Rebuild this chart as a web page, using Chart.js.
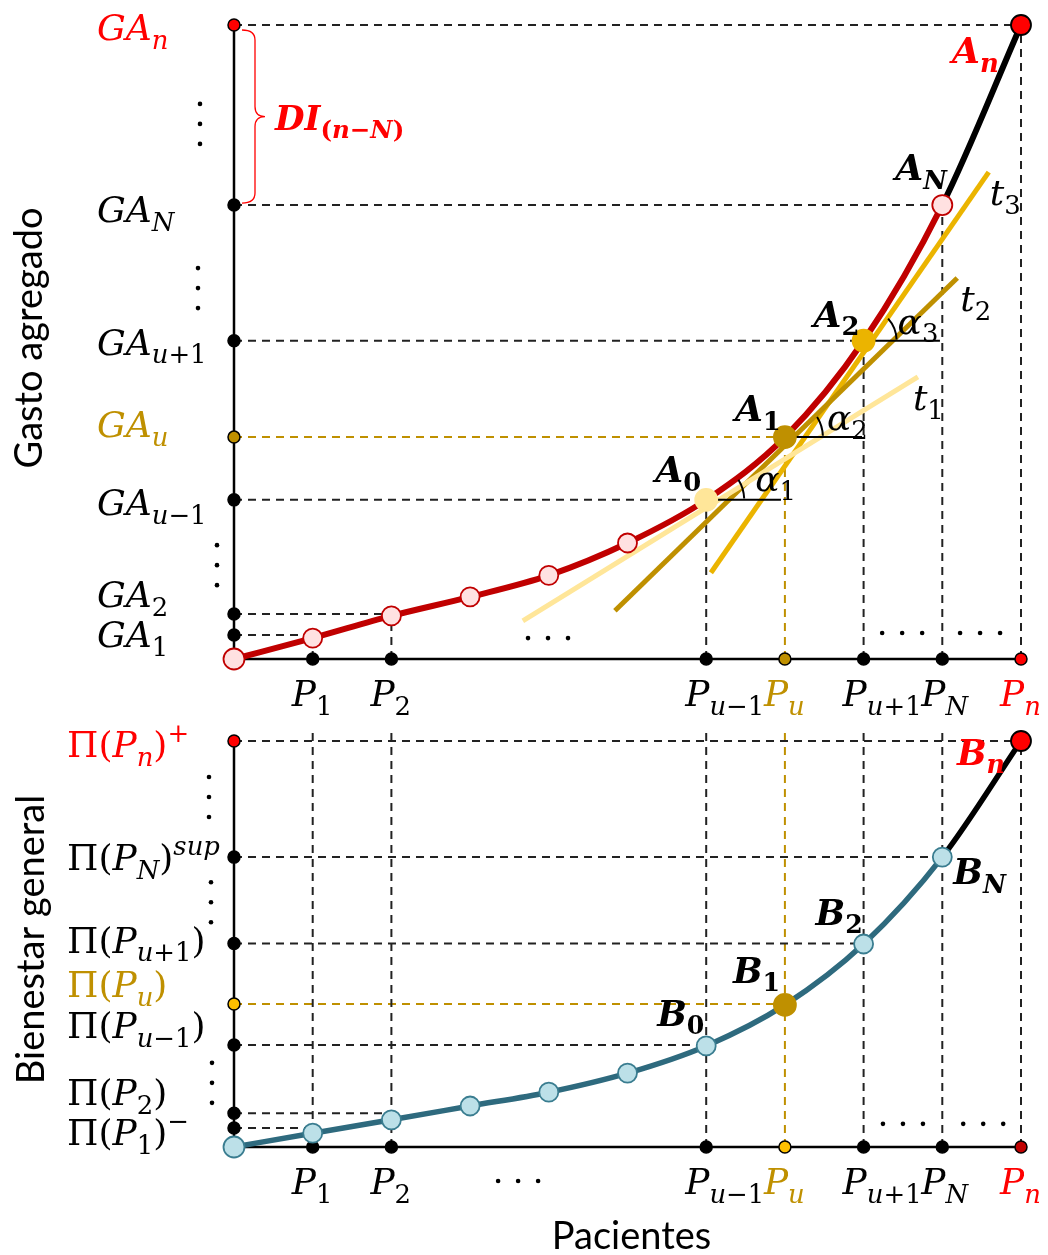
<!DOCTYPE html>
<html lang="es">
<head>
<meta charset="utf-8">
<title>Gasto agregado y bienestar general</title>
<script src="https://cdn.jsdelivr.net/npm/chart.js@4.4.1/dist/chart.umd.min.js"></script>
<style>
  html, body { margin: 0; padding: 0; background: #fff; }
  #lienzo { position: relative; width: 1048px; height: 1255px; overflow: hidden; background: #fff; }
  #lienzo canvas { position: absolute; left: 0; }
  #gasto { top: 0; }
  #bienestar { top: 700px; }
</style>
</head>
<body>
<div id="lienzo">
  <canvas id="gasto" width="1048" height="730"></canvas>
  <canvas id="bienestar" width="1048" height="555"></canvas>
</div>
<script>
// pacientes en el eje x: 0 = origen, 1..10 = posiciones de P
const pacientes = [0, 1, 2, 3, 4, 5, 6, 7, 8, 9, 10];
const gastoAgregado = [0, 3.3, 6.8, 9.8, 13.2, 18.3, 25.1, 35.0, 50.2, 71.6, 100];
const bienestarGeneral = [0, 3.4, 6.7, 10.1, 13.5, 18.2, 24.9, 35.0, 50.0, 71.4, 100];

const ticksX = [1, 2, 6, 7, 8, 9, 10];
const etiquetasX = ['P_{1}', 'P_{2}', 'P_{u−1}', 'P_{u}', 'P_{u+1}', 'P_{N}', 'P_{n}'];

const ticksGasto = [3.8, 7.1, 25.1, 35.0, 50.2, 71.6, 100];
const etiquetasGasto = ['GA_{1}', 'GA_{2}', 'GA_{u−1}', 'GA_{u}', 'GA_{u+1}', 'GA_{N}', 'GA_{n}'];

const ticksBienestar = [4.7, 8.3, 25.1, 35.2, 50.1, 71.4, 100];
const etiquetasBienestar = ['Π(P_{1})^{−}', 'Π(P_{2})', 'Π(P_{u−1})', 'Π(P_{u})', 'Π(P_{u+1})', 'Π(P_{N})^{sup}', 'Π(P_{n})^{+}'];

// tangentes (extremos de cada recta)
const t1X = [3.67, 8.69], t1Y = [6.0, 44.5];
const t2X = [4.84, 9.19], t2Y = [7.6, 60.1];
const t3X = [6.06, 9.59], t3Y = [13.6, 76.8];

// puntos con nombre: índices 6..10 de la curva
const nombresA = ['A_{0}', 'A_{1}', 'A_{2}', 'A_{N}', 'A_{n}'];
const nombresB = ['B_{0}', 'B_{1}', 'B_{2}', 'B_{N}', 'B_{n}'];
const angulos = ['α_{1}', 'α_{2}', 'α_{3}'];
const tangentes = ['t_{1}', 't_{2}', 't_{3}'];

// ---- estilos ----
const ROJO = '#FF0000', GRANATE = '#C00000', ORO = '#BF9000', AMBAR = '#FFC000';
const DORADO = '#EBB400', CREMA = '#FFE699', ROSA = '#FFE1E1';
const TEAL = '#2E6A7E', CELESTE = '#BCE0E8', BORDE_CEL = '#3A7D90';
const MATH = '"DejaVu Serif", serif';
const SANS = 'Lato, "Open Sans", sans-serif';
const TAM = 36;

function partes(str) {
  const out = [];
  let i = 0, buf = '';
  while (i < str.length) {
    const c = str[i];
    if ((c === '_' || c === '^') && str[i + 1] === '{') {
      if (buf) { out.push({ t: buf, k: 'n' }); buf = ''; }
      const fin = str.indexOf('}', i + 2);
      out.push({ t: str.slice(i + 2, fin), k: c === '_' ? 'sub' : 'sup' });
      i = fin + 1;
    } else { buf += c; i++; }
  }
  if (buf) out.push({ t: buf, k: 'n' });
  return out;
}

function fuente(cursiva, px, negrita) {
  return (cursiva ? 'italic ' : '') + (negrita ? 'bold ' : '') + px.toFixed(1) + 'px ' + MATH;
}

// texto matemático con subíndices / superíndices
function textoMat(ctx, str, x, y, o) {
  const size = o.size || TAM;
  const trozos = [];
  for (const p of partes(str)) {
    const px = p.k === 'n' ? size : size * 0.72;
    const dy = p.k === 'sub' ? size * 0.24 : p.k === 'sup' ? -size * 0.42 : 0;
    for (const ch of p.t) {
      const cur = /[A-Za-zα-ω]/.test(ch);
      const last = trozos[trozos.length - 1];
      if (last && last.cur === cur && last.px === px && last.dy === dy) last.t += ch;
      else trozos.push({ t: ch, cur, px, dy });
    }
  }
  let w = 0;
  for (const t of trozos) { ctx.font = fuente(t.cur, t.px, o.bold); t.w = ctx.measureText(t.t).width; w += t.w; }
  let cx = o.align === 'center' ? x - w / 2 : x;
  ctx.fillStyle = o.color || '#000';
  ctx.textAlign = 'left';
  ctx.textBaseline = 'alphabetic';
  for (const t of trozos) { ctx.font = fuente(t.cur, t.px, o.bold); ctx.fillText(t.t, cx, y + t.dy); cx += t.w; }
}

function segmentos(lista) {
  const d = [];
  lista.forEach((s, i) => {
    if (i) d.push({ x: null, y: null });
    d.push({ x: s[0], y: s[1] }, { x: s[2], y: s[3] });
  });
  return d;
}

function puntos(xs, ys) { return xs.map((x, i) => ({ x, y: ys[i] })); }

const base = { fill: false, pointRadius: 0, pointHoverRadius: 0, clip: false, tension: 0, spanGaps: false };

function puntitos(ctx, cx, cy, vertical) {
  ctx.fillStyle = '#000';
  for (let k = -1; k <= 1; k++) {
    ctx.beginPath();
    ctx.arc(cx + (vertical ? 0 : k * 20), cy + (vertical ? k * 20 : 0), 2.3, 0, Math.PI * 2);
    ctx.fill();
  }
}

function opciones(pad, yMax) {
  return {
    responsive: false, animation: false, events: [],
    layout: { padding: pad },
    plugins: { legend: { display: false }, tooltip: { enabled: false } },
    scales: {
      x: { type: 'linear', min: 0, max: 10, display: false },
      y: { type: 'linear', min: 0, max: yMax, display: false }
    }
  };
}

// ================= GASTO AGREGADO =================
const colorTickGasto = ['#000', '#000', '#000', ORO, '#000', '#000', ROJO];
const colorTickX = ['#000', '#000', '#000', ORO, '#000', '#000', ROJO];
const dyGasto = [12, -7, 15, 0, 14, 17, 15];

const guiasG = [], guiasGOro = [];
ticksX.forEach((xi, k) => {
  const dest = k === 3 ? guiasGOro : guiasG;
  dest.push([0, ticksGasto[k], xi, ticksGasto[k]]);
  dest.push([xi, 0, xi, ticksGasto[k]]);
});

const puntoColG = pacientes.map(i => i === 6 ? CREMA : i === 7 ? ORO : i === 8 ? DORADO : i === 10 ? ROJO : ROSA);
const puntoBorG = pacientes.map(i => i === 6 ? CREMA : i === 7 ? ORO : i === 8 ? DORADO : i === 10 ? '#000' : GRANATE);
const puntoRadG = pacientes.map(i => i === 0 ? 10.5 : i >= 6 && i <= 8 ? 11 : i >= 9 ? 10 : 9.5);

const pluginGasto = {
  id: 'rotulosGasto',
  afterDatasetsDraw(chart) {
    const { ctx, chartArea: a, scales: { x, y } } = chart;
    ctx.save();
    // etiquetas del eje y
    ticksGasto.forEach((v, k) => textoMat(ctx, etiquetasGasto[k], 97, y.getPixelForValue(v) + dyGasto[k], { color: colorTickGasto[k] }));
    // etiquetas del eje x
    ticksX.forEach((v, k) => textoMat(ctx, etiquetasX[k], x.getPixelForValue(v) - 21, a.bottom + 47, { color: colorTickX[k] }));
    // nombres de los puntos A
    const offA = [[-51, -18], [-50, -16], [-50, -14], [-47, -25], [-69, 38]];
    nombresA.forEach((s, k) => {
      const i = 6 + k;
      textoMat(ctx, s, x.getPixelForValue(i) + offA[k][0], y.getPixelForValue(gastoAgregado[i]) + offA[k][1],
        { bold: true, size: 36, color: k === 4 ? ROJO : '#000' });
    });
    // tangentes
    [[t1X, t1Y], [t2X, t2Y], [t3X, t3Y]].forEach((t, k) => {
      textoMat(ctx, tangentes[k], x.getPixelForValue(t[0][1]) + [-5, 3, 1][k], y.getPixelForValue(t[1][1]) + 33, {});
    });
    // ángulos
    const radio = [38, 38, 33], ini = [-32, -32, -42];
    const offAl = [[49, -9], [42, -7], [34, -7]];
    angulos.forEach((s, k) => {
      const i = 6 + k;
      const px = x.getPixelForValue(i), py = y.getPixelForValue(gastoAgregado[i]);
      ctx.strokeStyle = '#000'; ctx.lineWidth = 2;
      ctx.beginPath();
      ctx.arc(px, py, radio[k], ini[k] * Math.PI / 180, -2 * Math.PI / 180);
      ctx.stroke();
      textoMat(ctx, s, px + offAl[k][0], py + offAl[k][1], {});
    });
    // llave DI
    const yA = y.getPixelForValue(100) + 5, yB = y.getPixelForValue(71.6) - 2, yM = (yA + yB) / 2;
    const x0 = a.left + 8, xm = a.left + 21, xp = a.left + 31, r = 10;
    ctx.strokeStyle = ROJO; ctx.lineWidth = 1.3;
    ctx.beginPath();
    ctx.moveTo(x0, yA);
    ctx.quadraticCurveTo(xm, yA, xm, yA + r);
    ctx.lineTo(xm, yM - r);
    ctx.quadraticCurveTo(xm, yM, xp, yM);
    ctx.quadraticCurveTo(xm, yM, xm, yM + r);
    ctx.lineTo(xm, yB - r);
    ctx.quadraticCurveTo(xm, yB, x0, yB);
    ctx.stroke();
    textoMat(ctx, 'DI_{(n−N)}', a.left + 41, yM + 13, { bold: true, size: 34, color: ROJO });
    // puntos suspensivos
    puntitos(ctx, a.left - 34, y.getPixelForValue(84.4), true);
    puntitos(ctx, a.left - 36, y.getPixelForValue(58.5), true);
    puntitos(ctx, a.left - 17, y.getPixelForValue(14.8), true);
    puntitos(ctx, x.getPixelForValue(3.99), y.getPixelForValue(3.3), false);
    puntitos(ctx, x.getPixelForValue(8.49), y.getPixelForValue(4.1), false);
    puntitos(ctx, x.getPixelForValue(9.48), y.getPixelForValue(4.1), false);
    // título eje y
    ctx.translate(30, (a.top + a.bottom) / 2 - 4);
    ctx.rotate(-Math.PI / 2);
    ctx.font = '38px ' + SANS; ctx.fillStyle = '#000';
    ctx.textAlign = 'center'; ctx.textBaseline = 'middle';
    ctx.fillText('Gasto agregado', 0, 0);
    ctx.restore();
  }
};

new Chart(document.getElementById('gasto').getContext('2d'), {
  type: 'line',
  data: {
    datasets: [
      { ...base, data: segmentos(guiasG), borderColor: '#222', borderWidth: 2, borderDash: [8, 6], order: 9 },
      { ...base, data: segmentos(guiasGOro), borderColor: ORO, borderWidth: 2, borderDash: [8, 6], order: 9 },
      { ...base, data: segmentos([[0, 0, 0, 100], [0, 0, 10, 0]]), borderColor: '#000', borderWidth: 2.5, order: 7 },
      { ...base, data: puntos(pacientes, gastoAgregado), borderWidth: 6, borderColor: GRANATE,
        cubicInterpolationMode: 'monotone', segment: { borderColor: c => c.p0DataIndex >= 9 ? '#000' : GRANATE }, order: 6 },
      { ...base, data: puntos(t1X, t1Y), borderColor: CREMA, borderWidth: 5, order: 5 },
      { ...base, data: puntos(t2X, t2Y), borderColor: ORO, borderWidth: 5, order: 5 },
      { ...base, data: puntos(t3X, t3Y), borderColor: DORADO, borderWidth: 5, order: 5 },
      { ...base, data: segmentos([[6, 25.1, 6.95, 25.1], [7, 35.0, 7.98, 35.0], [8, 50.2, 8.97, 50.2]]),
        borderColor: '#000', borderWidth: 2, order: 4 },
      { ...base, showLine: false, data: ticksGasto.map(v => ({ x: 0, y: v })), pointRadius: 6,
        pointBackgroundColor: colorTickGasto, pointBorderColor: '#000', pointBorderWidth: 1.5, order: 2 },
      { ...base, showLine: false, data: ticksX.map(v => ({ x: v, y: 0 })), pointRadius: 6,
        pointBackgroundColor: colorTickX, pointBorderColor: '#000', pointBorderWidth: 1.5, order: 2 },
      { ...base, showLine: false, data: puntos(pacientes, gastoAgregado), pointRadius: puntoRadG,
        pointBackgroundColor: puntoColG, pointBorderColor: puntoBorG, pointBorderWidth: 1.8, order: 0 }
    ]
  },
  options: opciones({ left: 234, right: 27, top: 25, bottom: 71 }, 100),
  plugins: [pluginGasto]
});

// ================= BIENESTAR GENERAL =================
const Y_MAX_B = 103.2;
const colorTickBien = ['#000', '#000', '#000', AMBAR, '#000', '#000', ROJO];
const colorEtqBien = ['#000', '#000', '#000', ORO, '#000', '#000', ROJO];
const colorTickXB = ['#000', '#000', '#000', AMBAR, '#000', '#000', GRANATE];
const dyBien = [17, -8, -7, -7, 9, 13, 16];

const guiasB = [], guiasBOro = [];
ticksX.forEach((xi, k) => {
  const dest = k === 3 ? guiasBOro : guiasB;
  dest.push([0, ticksBienestar[k], xi, ticksBienestar[k]]);
  dest.push([xi, 0, xi, k === 6 ? ticksBienestar[k] : Y_MAX_B]);
});

const puntoColB = pacientes.map(i => i === 7 ? ORO : i === 10 ? ROJO : CELESTE);
const puntoBorB = pacientes.map(i => i === 7 ? ORO : i === 10 ? '#000' : BORDE_CEL);
const puntoRadB = pacientes.map(i => i === 0 ? 10.5 : i === 7 ? 11 : i === 10 ? 10 : 9.5);

const pluginBien = {
  id: 'rotulosBienestar',
  afterDatasetsDraw(chart) {
    const { ctx, chartArea: a, scales: { x, y } } = chart;
    ctx.save();
    ticksBienestar.forEach((v, k) => textoMat(ctx, etiquetasBienestar[k], 67, y.getPixelForValue(v) + dyBien[k], { color: colorEtqBien[k] }));
    ticksX.forEach((v, k) => textoMat(ctx, etiquetasX[k], x.getPixelForValue(v) - 21, a.bottom + 47, { color: colorEtqBien[k] }));
    const offB = [[-49, -20], [-52, -22], [-48, -19], [11, 27], [-64, 24]];
    nombresB.forEach((s, k) => {
      const i = 6 + k;
      textoMat(ctx, s, x.getPixelForValue(i) + offB[k][0], y.getPixelForValue(bienestarGeneral[i]) + offB[k][1],
        { bold: true, size: 35, color: k === 4 ? ROJO : '#000' });
    });
    puntitos(ctx, a.left - 25, y.getPixelForValue(86.2), true);
    puntitos(ctx, a.left - 23, y.getPixelForValue(60.3), true);
    puntitos(ctx, a.left - 22, y.getPixelForValue(15.8), true);
    puntitos(ctx, x.getPixelForValue(8.5), y.getPixelForValue(5.7), false);
    puntitos(ctx, x.getPixelForValue(9.52), y.getPixelForValue(5.7), false);
    puntitos(ctx, x.getPixelForValue(3.61), a.bottom + 34, false);
    ctx.font = '38px ' + SANS; ctx.fillStyle = '#000';
    ctx.textAlign = 'center'; ctx.textBaseline = 'alphabetic';
    ctx.fillText('Pacientes', (a.left + a.right) / 2 + 4, a.bottom + 102);
    ctx.translate(32, (a.top + a.bottom) / 2 + 2);
    ctx.rotate(-Math.PI / 2);
    ctx.textBaseline = 'middle';
    ctx.fillText('Bienestar general', 0, 0);
    ctx.restore();
  }
};

new Chart(document.getElementById('bienestar').getContext('2d'), {
  type: 'line',
  data: {
    datasets: [
      { ...base, data: segmentos(guiasB), borderColor: '#222', borderWidth: 2, borderDash: [8, 6], order: 9 },
      { ...base, data: segmentos(guiasBOro), borderColor: ORO, borderWidth: 2, borderDash: [8, 6], order: 9 },
      { ...base, data: segmentos([[0, 0, 0, 100], [0, 0, 10, 0]]), borderColor: '#000', borderWidth: 2.5, order: 7 },
      { ...base, data: puntos(pacientes, bienestarGeneral), borderWidth: 5.5, borderColor: TEAL,
        cubicInterpolationMode: 'monotone', segment: { borderColor: c => c.p0DataIndex >= 9 ? '#000' : TEAL }, order: 6 },
      { ...base, showLine: false, data: ticksBienestar.map(v => ({ x: 0, y: v })), pointRadius: 6,
        pointBackgroundColor: colorTickBien, pointBorderColor: '#000', pointBorderWidth: 1.5, order: 2 },
      { ...base, showLine: false, data: ticksX.map(v => ({ x: v, y: 0 })), pointRadius: 6,
        pointBackgroundColor: colorTickXB, pointBorderColor: '#000', pointBorderWidth: 1.5, order: 2 },
      { ...base, showLine: false, data: puntos(pacientes, bienestarGeneral), pointRadius: puntoRadB,
        pointBackgroundColor: puntoColB, pointBorderColor: puntoBorB, pointBorderWidth: 1.8, order: 0 }
    ]
  },
  options: opciones({ left: 234, right: 27, top: 28, bottom: 108 }, Y_MAX_B),
  plugins: [pluginBien]
});
</script>
</body>
</html>
